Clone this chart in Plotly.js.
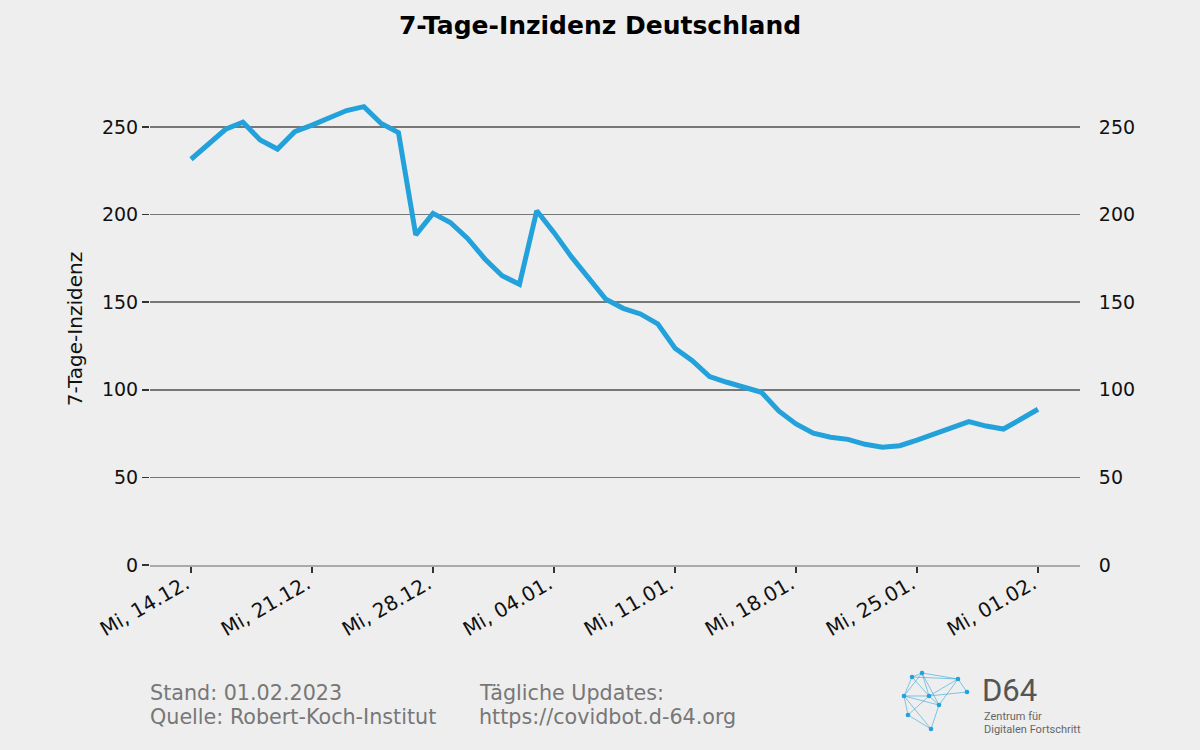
<!DOCTYPE html>
<html>
<head>
<meta charset="utf-8">
<script src="https://cdn.plot.ly/plotly-3.0.1.min.js"></script>
<style>html,body{margin:0;padding:0;background:#eeeeee;}#chart{width:1200px;height:750px;}</style>
</head>
<body>
<div id="chart"></div>
<script>
// ---- Data ----
const dates = [
  '2022-12-14','2022-12-15','2022-12-16','2022-12-17','2022-12-18','2022-12-19','2022-12-20',
  '2022-12-21','2022-12-22','2022-12-23','2022-12-24','2022-12-25','2022-12-26','2022-12-27',
  '2022-12-28','2022-12-29','2022-12-30','2022-12-31','2023-01-01','2023-01-02','2023-01-03',
  '2023-01-04','2023-01-05','2023-01-06','2023-01-07','2023-01-08','2023-01-09','2023-01-10',
  '2023-01-11','2023-01-12','2023-01-13','2023-01-14','2023-01-15','2023-01-16','2023-01-17',
  '2023-01-18','2023-01-19','2023-01-20','2023-01-21','2023-01-22','2023-01-23','2023-01-24',
  '2023-01-25','2023-01-26','2023-01-27','2023-01-28','2023-01-29','2023-01-30','2023-01-31',
  '2023-02-01'
];
const incidence = [
  231.6, 240.0, 248.7, 252.7, 242.6, 237.4, 247.3,
  251.1, 255.0, 259.4, 261.6, 252.0, 246.8, 188.4,
  200.7, 195.5, 186.4, 174.7, 165.1, 160.2, 202.2,
  189.7, 176.0, 164.2, 151.7, 146.5, 143.3, 137.6,
  123.7, 116.6, 107.5, 104.3, 101.2, 98.6, 87.9,
  80.5, 75.2, 72.9, 71.7, 68.9, 67.2, 68.1,
  71.3, 74.8, 79.0, 81.8, 79.3, 77.6, 83.2,
  88.9
];
const tickDates = ['2022-12-14','2022-12-21','2022-12-28','2023-01-04','2023-01-11','2023-01-18','2023-01-25','2023-02-01'];
const tickLabels = ['Mi, 14.12.','Mi, 21.12.','Mi, 28.12.','Mi, 04.01.','Mi, 11.01.','Mi, 18.01.','Mi, 25.01.','Mi, 01.02.'];
const yTicks = [0, 50, 100, 150, 200, 250];
const titleText = '7-Tage-Inzidenz Deutschland';
const yTitle = '7-Tage-Inzidenz';
const footerLeft = ['Stand: 01.02.2023', 'Quelle: Robert-Koch-Institut'];
const footerRight = ['Tägliche Updates:', 'https://covidbot.d-64.org'];

// ---- Layout geometry ----
const W = 1200, H = 750;
const M = {l: 150, r: 120, t: 93, b: 185};
const plotW = W - M.l - M.r, plotH = H - M.t - M.b;
const px = x => (x - M.l) / plotW;
const py = y => (H - M.b - y) / plotH;

const FONT = 'DejaVu Sans, sans-serif';
const BG = '#eeeeee';
const LINE = '#23a1db';

// ---- Logo decoration (pixel positions) ----
const logoNodes = [[912,677],[922,673],[958,679],[967,692],[904,696],[929,696],[939,705],[908,715],[931,729]];
const logoEdges = [[0,1],[1,2],[0,2],[2,3],[0,4],[1,4],[4,5],[1,5],[5,2],[2,6],[5,6],[4,7],[5,7],[7,8],[4,8],[6,8],[0,5],[4,6],[1,6],[5,3]];
const shapes = [];
logoEdges.forEach(([a,b]) => {
  shapes.push({type:'line', xref:'paper', yref:'paper',
    x0: px(logoNodes[a][0]), y0: py(logoNodes[a][1]), x1: px(logoNodes[b][0]), y1: py(logoNodes[b][1]),
    line:{color:'rgba(35,161,219,0.55)', width:1}});
});
logoNodes.forEach(([x,y]) => {
  const r = 2.3;
  shapes.push({type:'circle', xref:'paper', yref:'paper',
    x0: px(x - r), x1: px(x + r), y0: py(y + r), y1: py(y - r),
    fillcolor: LINE, line:{width:0}});
});

const annotations = [];
footerLeft.forEach((t, i) => annotations.push({text: t, xref:'paper', yref:'paper', x: px(148), y: py(693 + i*24),
  xanchor:'left', yanchor:'middle', showarrow:false, font:{family:FONT, size:20.7, color:'#777777'}}));
footerRight.forEach((t, i) => annotations.push({text: t, xref:'paper', yref:'paper', x: px(477), y: py(693 + i*24),
  xanchor:'left', yanchor:'middle', showarrow:false, font:{family:FONT, size:20.7, color:'#777777'}}));
annotations.push({text:'D64', xref:'paper', yref:'paper', x: px(980), y: py(690), xanchor:'left', yanchor:'middle',
  showarrow:false, font:{family:'Roboto, DejaVu Sans, sans-serif', size:31, color:'#555555'}});
annotations.push({text:'Zentrum für', xref:'paper', yref:'paper', x: px(982), y: py(716), xanchor:'left', yanchor:'middle',
  showarrow:false, font:{family:'Roboto, DejaVu Sans, sans-serif', size:11, color:'#666666'}});
annotations.push({text:'Digitalen Fortschritt', xref:'paper', yref:'paper', x: px(982), y: py(729), xanchor:'left', yanchor:'middle',
  showarrow:false, font:{family:'Roboto, DejaVu Sans, sans-serif', size:11, color:'#666666'}});

const yRange = [0, plotH / ((565 - 127) / 250)];

const traces = [
  {x: dates, y: incidence, type:'scatter', mode:'lines', line:{color:LINE, width:5}, hoverinfo:'x+y', showlegend:false, cliponaxis:false},
  {x: dates, y: incidence, type:'scatter', mode:'lines', yaxis:'y2', line:{color:LINE, width:1}, opacity:0, hoverinfo:'skip', showlegend:false}
];

const layout = {
  width: W, height: H,
  paper_bgcolor: BG, plot_bgcolor: BG,
  margin: M,
  showlegend: false,
  title: {text: titleText, x: 0.5, xref:'container', xanchor:'center', y: 1 - 25/H, yanchor:'middle', font:{family:FONT, size:25, color:'#000000', weight:'bold'}},
  xaxis: {
    type:'date', range:['2022-12-11 15:00', '2023-02-03 10:20'],
    tickvals: tickDates, ticktext: tickLabels, tickangle: -30,
    ticks:'outside', ticklen:6, tickwidth:1.5, tickcolor:'#333333',
    ticklabelstandoff: -8, ticklabelshift: -5,
    showgrid:false, zeroline:false,
    showline:true, linecolor:'#aaaaaa', linewidth:1.5,
    tickfont:{family:FONT, size:20, color:'#111111'}
  },
  yaxis: {
    range: yRange, tickvals: yTicks,
    ticks:'outside', ticklen:7, tickwidth:1.5, tickcolor:'#333333',
    showgrid:true, gridcolor:'#777777', gridwidth:1.5, zeroline:false, showline:false,
    tickfont:{family:FONT, size:19, color:'#111111'},
    title:{text: yTitle, standoff: 13, font:{family:FONT, size:20, color:'#111111'}}
  },
  yaxis2: {
    overlaying:'y', side:'right', range: yRange, tickvals: yTicks,
    ticks:'outside', ticklen:14, tickcolor:'rgba(0,0,0,0)',
    showgrid:false, zeroline:false, showline:false,
    tickfont:{family:FONT, size:19, color:'#111111'}
  },
  shapes: shapes,
  annotations: annotations
};

Plotly.newPlot('chart', traces, layout, {displayModeBar:false, staticPlot:true});
</script>
</body>
</html>
